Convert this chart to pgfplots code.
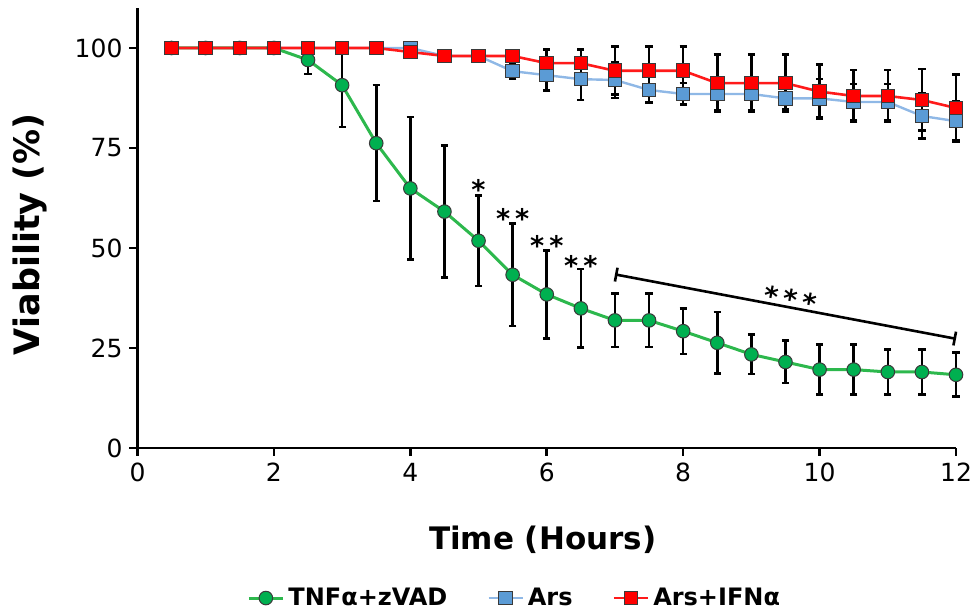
\documentclass[border=0pt]{standalone}
\usepackage{fontspec}
\setmainfont{DejaVu Sans}
\usepackage{pgfplots}
\usepackage{pgfplotstable}
\pgfplotsset{compat=1.18}
\usetikzlibrary{arrows.meta}

\definecolor{tnfline}{HTML}{2DB84D}
\definecolor{tnffill}{HTML}{00B050}
\definecolor{arsline}{HTML}{8FB8E6}
\definecolor{arsfill}{HTML}{5B9BD5}
\definecolor{ifnline}{HTML}{FF1A1A}
\definecolor{ifnfill}{HTML}{FF0000}
\definecolor{mkedge}{HTML}{3A3A3A}

% time (h), mean viability (%), error
\pgfplotstableread{
t v e
0.5 100 0
1 100 0
1.5 100 0
2 100 0
2.5 97 3.5
3 90.7 10.5
3.5 76.2 14.5
4 64.9 17.8
4.5 59.1 16.5
5 51.8 11.3
5.5 43.3 12.8
6 38.4 11
6.5 34.9 9.8
7 31.9 6.7
7.5 31.9 6.7
8 29.2 5.7
8.5 26.3 7.7
9 23.4 4.9
9.5 21.5 5.3
10 19.6 6.2
10.5 19.6 6.2
11 19.0 5.6
11.5 19.0 5.6
12 18.3 5.5
}\tnfdata

\pgfplotstableread{
t v e
0.5 100 0
1 100 0
1.5 100 0
2 100 0
2.5 100 0
3 100 0
3.5 100 0
4 100 0.5
4.5 98 1
5 98 1
5.5 94.2 2
6 93.2 3.8
6.5 92.2 5.2
7 92 4.5
7.5 89.5 3.2
8 88.5 2.7
8.5 88.5 4.2
9 88.5 4
9.5 87.4 2.8
10 87.4 4.8
10.5 86.5 4.5
11 86.5 4.5
11.5 83 5.6
12 81.7 4.9
}\arsdata

\pgfplotstableread{
t v e
0.5 100 0
1 100 0
1.5 100 0
2 100 0
2.5 100 0
3 100 0
3.5 100 0
4 99 0.5
4.5 98 1
5 98 1
5.5 98 1.5
6 96.2 3.4
6.5 96.2 3.4
7 94.3 6
7.5 94.3 6
8 94.3 6
8.5 91.2 7.1
9 91.2 7.1
9.5 91.2 7.1
10 89.1 6.7
10.5 88 6.5
11 88 6.5
11.5 87 7.7
12 85 8.4
}\ifndata

\pgfplotsset{
  ebar/.style={error bars/.cd, y dir=both, y explicit,
    error bar style={black,line width=1.3pt},
    error mark options={black,line width=1.3pt,mark size=1.8pt,rotate=90}},
}

\newcommand{\sigfont}{\fontsize{13.5}{16}\selectfont\bfseries}

\begin{document}
\begin{tikzpicture}
\path[use as bounding box] (-68.75pt,-82.5pt) rectangle (420.75pt,224pt);
\begin{axis}[
  at={(0pt,0pt)}, anchor=south west,
  scale only axis, width=409.25pt, height=220pt,
  xmin=0, xmax=12, ymin=0, ymax=110,
  axis lines=left, axis line style={-, line width=1.3pt, black},
  xtick={0,2,...,12}, ytick={0,25,50,75,100},
  tick align=outside, major tick length=4pt,
  tick style={line width=1.3pt, black},
  /pgf/number format/assume math mode=true,
  ticklabel style={font=\fontsize{12.5}{14}\selectfont},
  xlabel={Time (Hours)}, ylabel={Viability (\%)},
  xlabel style={font=\fontsize{15.5}{18}\selectfont\bfseries,
    at={(axis description cs:0.495,-0.209)}, anchor=center},
  ylabel style={font=\fontsize{17.5}{20}\selectfont\bfseries,
    at={(axis description cs:-0.131,0.486)}, anchor=center},
  clip=false,
  legend columns=3,
  legend style={draw=none, at={(axis description cs:0.462,-0.341)}, anchor=center,
    font=\fontsize{12}{14}\selectfont\bfseries,
    /tikz/every odd column/.append style={column sep=0pt},
    /tikz/every even column/.append style={column sep=18pt},
    inner sep=0pt},
]
  \addplot[tnfline, line width=1.5pt, mark=*, mark size=3.4pt,
    mark options={fill=tnffill, draw=mkedge, line width=0.5pt}, ebar]
    table[x=t, y=v, y error=e]{\tnfdata};
  \addlegendentry{TNFα+zVAD}
  \addplot[arsline, line width=1.2pt, mark=square*, mark size=3.4pt,
    mark options={fill=arsfill, draw=mkedge, line width=0.5pt}, ebar]
    table[x=t, y=v, y error=e]{\arsdata};
  \addlegendentry{Ars}
  \addplot[ifnline, line width=1.3pt, mark=square*, mark size=3.4pt,
    mark options={fill=ifnfill, draw=mkedge, line width=0.5pt}, ebar]
    table[x=t, y=v, y error=e]{\ifndata};
  \addlegendentry{Ars+IFNα}

  % significance annotations
  \draw[line width=1.3pt, {Bar[width=7pt]}-{Bar[width=7pt]}]
    (axis cs:7,43.4) -- (axis cs:12,27.3);
  \node[anchor=base, font=\sigfont, rotate=-10.7]
    at (axis cs:9.54,34.7) {*\kern2.5pt*\kern2.5pt*};
  \node[anchor=base, font=\sigfont] at (axis cs:5,62.1) {*};
  \node[anchor=base, font=\sigfont] at (axis cs:5.5,54.9) {*\kern2.5pt*};
  \node[anchor=base, font=\sigfont] at (axis cs:6,48.1) {*\kern2.5pt*};
  \node[anchor=base, font=\sigfont] at (axis cs:6.5,43.2) {*\kern2.5pt*};
\end{axis}
\end{tikzpicture}
\end{document}
